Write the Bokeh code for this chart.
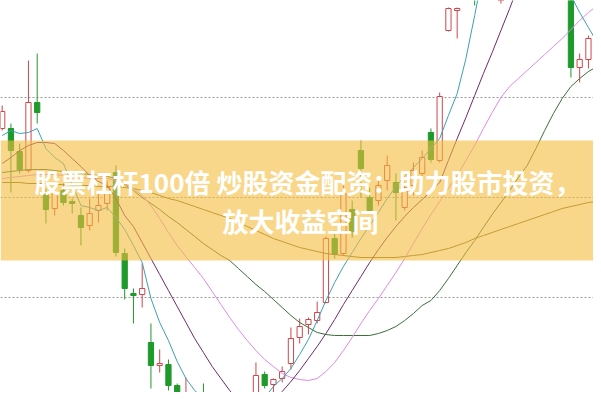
import numpy as np
from bokeh.plotting import figure
from bokeh.models import Range1d, ColumnDataSource, Span, BoxAnnotation, Label
from bokeh.embed import file_html
from bokeh.resources import INLINE

nan = float("nan")

# ---- data (price units); nan = candle above the visible window ----
opens = [12.72, 12.72, 12.49, 12.30, 12.98, 12.07, 11.92, 12.10, 11.99, 11.85,
         11.75, 11.90, 11.97, 12.28, 11.47, 11.07, 11.06, 10.58, 10.35, 10.36,
         10.15, 9.98, 10.05, 9.98, 9.82, 9.75, 9.88, 9.80, 9.88, 10.02,
         10.26, 10.16, 10.22, 10.37, 10.63, 10.76, 10.80, 10.98, 11.62, 11.47,
         11.91, 12.50, 12.03, 12.00, 12.20, 12.18, 11.93, 12.15, 12.27, 12.68,
         12.40, 13.70, 13.90, nan, nan, nan, nan, 14.05, nan, nan,
         nan, nan, nan, nan, nan, 14.60, 13.33, 13.41, 13.63]
closes = [12.89, 12.50, 12.31, 12.98, 12.88, 11.91, 12.08, 11.98, 11.97, 11.73,
          11.87, 11.95, 12.13, 11.48, 11.12, 11.05, 11.12, 10.35, 10.37, 10.15,
          9.88, 10.05, 9.96, 9.82, 9.75, 9.85, 9.80, 9.90, 9.95, 10.25,
          10.15, 10.21, 10.29, 10.62, 10.74, 10.81, 10.88, 11.62, 11.46, 12.07,
          11.69, 12.32, 11.90, 12.15, 12.35, 12.08, 12.13, 12.30, 12.43, 12.41,
          13.04, 13.92, 13.92, nan, nan, nan, nan, 14.08, nan, nan,
          nan, nan, nan, nan, nan, 13.33, 13.41, 13.62, 13.67]
highs = [12.95, 12.77, 12.57, 13.40, 13.47, 12.12, 12.15, 12.17, 12.02, 11.93,
         12.02, 12.07, 12.20, 12.35, 11.52, 11.12, 11.37, 10.77, 10.51, 10.41,
         10.17, 10.23, 10.07, 10.17, 9.90, 9.92, 9.95, 9.96, 9.98, 10.38,
         10.29, 10.22, 10.34, 10.73, 10.82, 10.83, 10.99, 11.64, 11.70, 12.15,
         12.00, 12.60, 12.13, 12.22, 12.45, 12.27, 12.18, 12.38, 12.50, 12.72,
         13.08, 13.93, 13.93, nan, 14.20, nan, nan, 14.20, nan, nan,
         nan, nan, nan, nan, nan, 14.80, 13.47, 13.65, 13.70]
lows = [12.70, 12.08, 12.27, 12.28, 12.77, 11.77, 11.85, 11.95, 11.87, 11.55,
        11.70, 11.78, 11.90, 11.44, 11.01, 10.77, 10.93, 10.12, 10.28, 10.10,
        9.82, 9.95, 9.92, 9.75, 9.70, 9.68, 9.72, 9.74, 9.82, 9.98,
        10.12, 10.02, 10.18, 10.31, 10.57, 10.66, 10.77, 10.97, 11.42, 11.45,
        11.63, 12.03, 11.87, 11.95, 12.10, 11.80, 11.90, 12.05, 12.24, 12.38,
        12.38, 13.69, 13.62, nan, 13.95, nan, nan, 13.97, nan, nan,
        nan, nan, nan, nan, nan, 13.23, 13.18, 13.32, 13.60]

ma5 = [12.65, 12.70, 12.67, 12.68, 12.72, 12.52, 12.43, 12.37, 12.16, 11.95,
       11.93, 11.90, 11.93, 11.83, 11.71, 11.55, 11.38, 11.02, 10.78, 10.60,
       10.39, 10.22, 10.10, 10.02, 9.95, 9.88, 9.84, 9.86, 9.90, 9.96,
       10.03, 10.14, 10.22, 10.32, 10.46, 10.61, 10.80, 11.00, 11.18, 11.34,
       11.48, 11.62, 11.75, 11.88, 12.02, 12.14, 12.24, 12.33, 12.42, 12.52,
       12.62, 12.85, 13.07, 13.42, 13.85, 14.30, 14.70, 15.00, 15.20, 15.30,
       15.30, 15.20, 15.00, 14.70, 14.35, 14.05, 13.88, 13.73, 13.58]
ma10 = [12.37, 12.43, 12.50, 12.55, 12.58, 12.58, 12.57, 12.50, 12.42, 12.34,
        12.25, 12.19, 12.15, 12.02, 11.85, 11.74, 11.58, 11.42, 11.26, 11.10,
        10.94, 10.78, 10.62, 10.48, 10.34, 10.22, 10.10, 10.00, 9.93, 9.90,
        9.94, 10.00, 10.09, 10.19, 10.30, 10.42, 10.54, 10.67, 10.81, 10.96,
        11.10, 11.24, 11.38, 11.51, 11.63, 11.74, 11.84, 11.93, 12.01, 12.09,
        12.18, 12.40, 12.62, 12.83, 13.05, 13.27, 13.48, 13.70, 13.92, 14.15,
        14.40, 14.60, 14.80, 14.95, 15.05, 15.10, 15.10, 15.05, 14.95]
ma20 = [12.22, 12.23, 12.24, 12.25, 12.26, 12.26, 12.26, 12.25, 12.24, 12.23,
        12.22, 12.22, 12.22, 12.20, 12.17, 12.12, 12.05, 11.95, 11.82, 11.68,
        11.55, 11.44, 11.33, 11.22, 11.09, 10.96, 10.83, 10.71, 10.60, 10.50,
        10.41, 10.34, 10.27, 10.23, 10.21, 10.20, 10.22, 10.29, 10.38, 10.50,
        10.63, 10.77, 10.90, 11.02, 11.15, 11.28, 11.42, 11.57, 11.72, 11.86,
        11.99, 12.12, 12.25, 12.40, 12.55, 12.72, 12.88, 13.03, 13.14, 13.22,
        13.30, 13.38, 13.46, 13.54, 13.62, 13.71, 13.80, 13.88, 13.95]
ma30 = [12.28, 12.29, 12.30, 12.31, 12.31, 12.31, 12.30, 12.29, 12.28, 12.27,
        12.26, 12.25, 12.24, 12.22, 12.16, 12.10, 12.03, 11.97, 11.91, 11.84,
        11.78, 11.71, 11.64, 11.57, 11.51, 11.45, 11.40, 11.32, 11.24, 11.16,
        11.09, 11.01, 10.93, 10.85, 10.78, 10.73, 10.68, 10.66, 10.65, 10.65,
        10.65, 10.65, 10.65, 10.67, 10.70, 10.74, 10.80, 10.87, 10.95, 11.00,
        11.10, 11.22, 11.35, 11.48, 11.60, 11.73, 11.86, 11.98, 12.10, 12.23,
        12.35, 12.52, 12.70, 12.87, 13.02, 13.14, 13.22, 13.29, 13.34]
ma60 = [12.18, 12.18, 12.18, 12.17, 12.17, 12.17, 12.16, 12.16, 12.15, 12.15,
        12.15, 12.14, 12.14, 12.14, 12.13, 12.12, 12.10, 12.08, 12.05, 12.02,
        12.00, 11.97, 11.94, 11.91, 11.88, 11.85, 11.82, 11.78, 11.74, 11.70,
        11.66, 11.62, 11.59, 11.56, 11.53, 11.51, 11.49, 11.47, 11.46, 11.45,
        11.44, 11.43, 11.43, 11.43, 11.43, 11.43, 11.44, 11.45, 11.46, 11.48,
        11.50, 11.52, 11.55, 11.58, 11.62, 11.65, 11.68, 11.71, 11.74, 11.77,
        11.80, 11.83, 11.86, 11.89, 11.92, 11.94, 11.96, 11.98, 11.99]

grid_levels = [10.03, 11.03, 12.03, 13.03]
banner_band = (11.40, 12.60)
title_lines = ["股票杠杆100倍 炒股资金配资：助力股市投资，", "放大收益空间"]
title_x = [34.89, 34.09]
title_y = [12.19, 11.80]

RED = "#d0464b"
GREEN = "#1e9a2a"

idx = np.arange(len(opens))
o = np.array(opens); c = np.array(closes)
up = c >= o
src = ColumnDataSource(dict(
    x=idx, o=o, c=c, h=np.array(highs), l=np.array(lows),
    top=np.maximum(o, c), bottom=np.minimum(o, c),
    col=[RED if u else GREEN for u in up],
    fill=["#ffffff" if u else GREEN for u in up],
))

p = figure(width=593, height=392, output_backend="svg", toolbar_location=None,
           x_range=Range1d(-0.194, 67.58), y_range=Range1d(10.08, 14.00),
           x_axis_type=None, y_axis_type=None, min_border=0,
           background_fill_color="white", border_fill_color="white")
p.outline_line_color = None
p.xgrid.visible = False
p.ygrid.visible = False

for g in grid_levels:
    p.add_layout(Span(location=g, dimension="width", line_color="#999999",
                      line_dash="2 2", line_width=1, level="underlay"))

p.segment(x0="x", y0="h", x1="x", y1="l", line_color="col", line_width=1, source=src)
p.vbar(x="x", width=0.6, top="top", bottom="bottom", fill_color="fill",
       line_color="col", line_width=1, source=src)

for arr, col in [(ma60, "#7a6a2a"), (ma30, "#3b6e3b"), (ma20, "#de8ae6"),
                 (ma10, "#6e2a6e"), (ma5, "#3c9fb4")]:
    p.line(idx, arr, line_color=col, line_width=1)

p.add_layout(BoxAnnotation(bottom=banner_band[0], top=banner_band[1],
                           fill_color="#f5bd3c", fill_alpha=0.6, line_color=None))

for tx, ty, txt in zip(title_x, title_y, title_lines):
    p.add_layout(Label(x=tx, y=ty, text=txt, text_align="center",
                       text_baseline="middle", text_color="white",
                       text_font="Noto Sans CJK SC", text_font_style="bold",
                       text_font_size="26px"))

open("out.html", "w").write(file_html(p, INLINE))
